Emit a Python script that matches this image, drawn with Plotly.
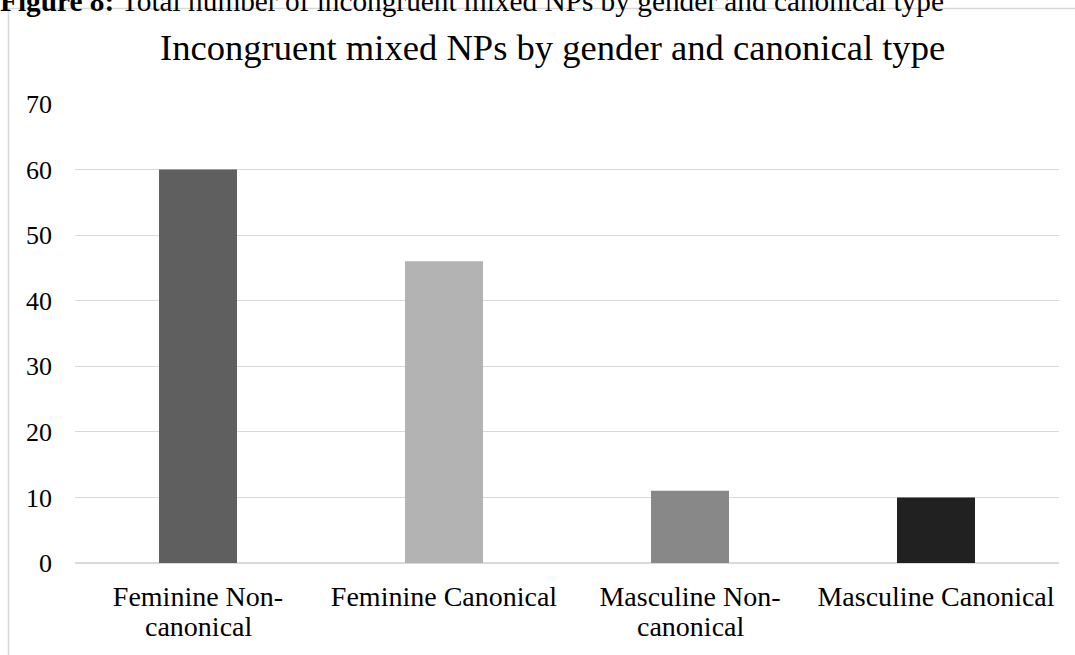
import plotly.graph_objects as go

categories = ["Feminine Non-canonical", "Feminine Canonical", "Masculine Non-canonical", "Masculine Canonical"]
label_line1 = ["Feminine Non-", "Feminine Canonical", "Masculine Non-", "Masculine Canonical"]
label_line2 = ["canonical", "", "canonical", ""]
values = [60, 46, 11, 10]
colors = ["#5f5f5f", "#b3b3b3", "#888888", "#212121"]
y_ticks = [0, 10, 20, 30, 40, 50, 60, 70]

W, H = 1075, 655
L, R, T, B = 75, 16, 104, 92
pw = W - L - R
ph = H - T - B

def px_x(x):
    return (x - L) / pw

def px_y(y):
    return (H - B - y) / ph

FONT = "Liberation Serif, Times New Roman, serif"

fig = go.Figure(go.Bar(
    x=categories, y=values, marker=dict(color=colors, line=dict(width=0)),
    width=0.317,
))

annotations = [
    dict(text="Incongruent mixed NPs by gender and canonical type",
         xref="paper", yref="paper", x=px_x(552), y=px_y(47),
         xanchor="center", yanchor="middle", showarrow=False,
         font=dict(size=36.6, family=FONT, color="#000000")),
    dict(text="<b>Figure 8:</b> Total number of incongruent mixed NPs by gender and canonical type",
         xref="paper", yref="paper", x=px_x(-2), y=px_y(19),
         xanchor="left", yanchor="bottom", showarrow=False,
         font=dict(size=29.3, family=FONT, color="#000000")),
]
for c, t in zip(categories, label_line2):
    if t:
        annotations.append(dict(
            text=t, xref="x", yref="paper", x=c, y=px_y(644),
            xanchor="center", yanchor="bottom", showarrow=False,
            font=dict(size=28, family=FONT, color="#000000")))

fig.update_layout(
    width=W, height=H,
    margin=dict(l=L, r=R, t=T, b=B),
    paper_bgcolor="white", plot_bgcolor="white",
    font=dict(family=FONT, color="#000000"),
    showlegend=False,
    xaxis=dict(
        showgrid=False, showline=False, zeroline=False, ticks="",
        tickmode="array", tickvals=categories, ticktext=label_line1,
        tickfont=dict(size=28, family=FONT, color="#000000"),
        ticklabelstandoff=14, automargin=False,
    ),
    yaxis=dict(
        range=[0, 70], tickvals=y_ticks, showgrid=True, gridcolor="#d9d9d9", gridwidth=1,
        zeroline=True, zerolinecolor="#d9d9d9", zerolinewidth=1.5,
        showline=False, ticks="",
        tickfont=dict(size=26, family=FONT, color="#000000"),
        ticklabelstandoff=22, automargin=False,
    ),
    annotations=annotations,
    shapes=[
        dict(type="rect", xref="paper", yref="paper",
             x0=px_x(8.5), x1=px_x(1100), y0=px_y(700), y1=px_y(8.5),
             line=dict(color="#d9d9d9", width=1.5), fillcolor="rgba(0,0,0,0)", layer="below"),
    ],
)

fig.write_html("out.html", config={"displayModeBar": False},
               post_script="document.body.style.margin='0';document.body.style.overflow='hidden';")
